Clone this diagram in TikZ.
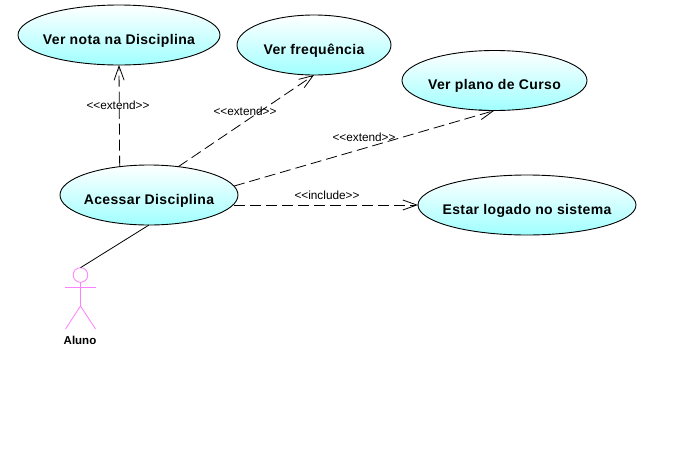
\documentclass[tikz,border=0pt]{standalone}
\usepackage{fontspec}
\setmainfont{Liberation Sans}
\newfontfamily\ucfont[LetterSpace=2.6]{Liberation Sans}
\usetikzlibrary{shapes.geometric,arrows.meta}
\definecolor{ucfill}{RGB}{160,255,255}
\definecolor{actorpink}{RGB}{255,128,255}
\tikzset{
  usecase/.style={ellipse,draw=black,line width=0.9pt,inner sep=0pt,outer sep=0pt,
    top color=white,bottom color=ucfill,minimum height=60pt},
  uctext/.style={font=\ucfont\fontsize{14pt}{15pt}\selectfont\bfseries,yshift=-5.5pt,inner sep=0pt},
  stereo/.style={font=\fontsize{11.8pt}{13pt}\selectfont,inner sep=0pt},
  dep/.style={draw=black,line width=0.8pt,dash pattern=on 11pt off 5pt,
    -{Straight Barb[length=14pt,width=10pt,line width=0.8pt]}},
  assoc/.style={draw=black,line width=0.8pt},
  actorline/.style={draw=actorpink,line width=0.8pt}
}
\begin{document}
\begin{tikzpicture}[x=1pt,y=-1pt]
\useasboundingbox (0,0) rectangle (699,448);
\fill[white] (0,0) rectangle (699,448);

\node[usecase,minimum width=202pt,label={[uctext]center:Ver nota na Disciplina}] (nota) at (119,35) {};
\node[usecase,minimum width=154pt,label={[uctext]center:Ver frequência}] (freq) at (314,45) {};
\node[usecase,minimum width=185pt,label={[uctext]center:Ver plano de Curso}] (plano) at (494.5,80.5) {};
\node[usecase,minimum width=178pt,label={[uctext]center:Acessar Disciplina}] (acessar) at (149,195) {};
\node[usecase,minimum width=218pt,label={[uctext]center:Estar logado no sistema}] (estar) at (527,205) {};

\coordinate (incstart) at (acessar.-6.8 |- estar.west);
\draw[dep] (acessar.136.8) -- (nota.south);
\draw[dep] (acessar.44.4) -- (freq.south);
\draw[dep] (acessar.6.5) -- (plano.south);
\draw[dep] (incstart) -- (estar.west);

\node[stereo] (l1) at (118,105.5) {<{}<{}extend>{}>};
\node[stereo] (l2) at (245,111) {<{}<{}extend>{}>};
\node[stereo] (l3) at (364,137.5) {<{}<{}extend>{}>};
\node[stereo] (l4) at (327,195.5) {<{}<{}include>{}>};

% actor
\node[circle,draw=actorpink,line width=0.8pt,minimum size=14.6pt,inner sep=0pt,outer sep=0pt] (head) at (80.5,275) {};
\coordinate (hip) at (80.5,306);
\coordinate (armL) at (65,287);
\coordinate (armR) at (96,287);
\coordinate (legL) at (65.5,329);
\coordinate (legR) at (95.5,329);
\draw[actorline] (head.south) -- (hip);
\draw[actorline] (armL) -- (armR);
\draw[actorline] (legL) -- (hip) -- (legR);
\node[font=\fontsize{11.5pt}{13pt}\selectfont\bfseries,inner sep=0pt] (aluno) at (80,340) {Aluno};

\draw[assoc] (acessar.south) -- (head.north);
\end{tikzpicture}
\end{document}
